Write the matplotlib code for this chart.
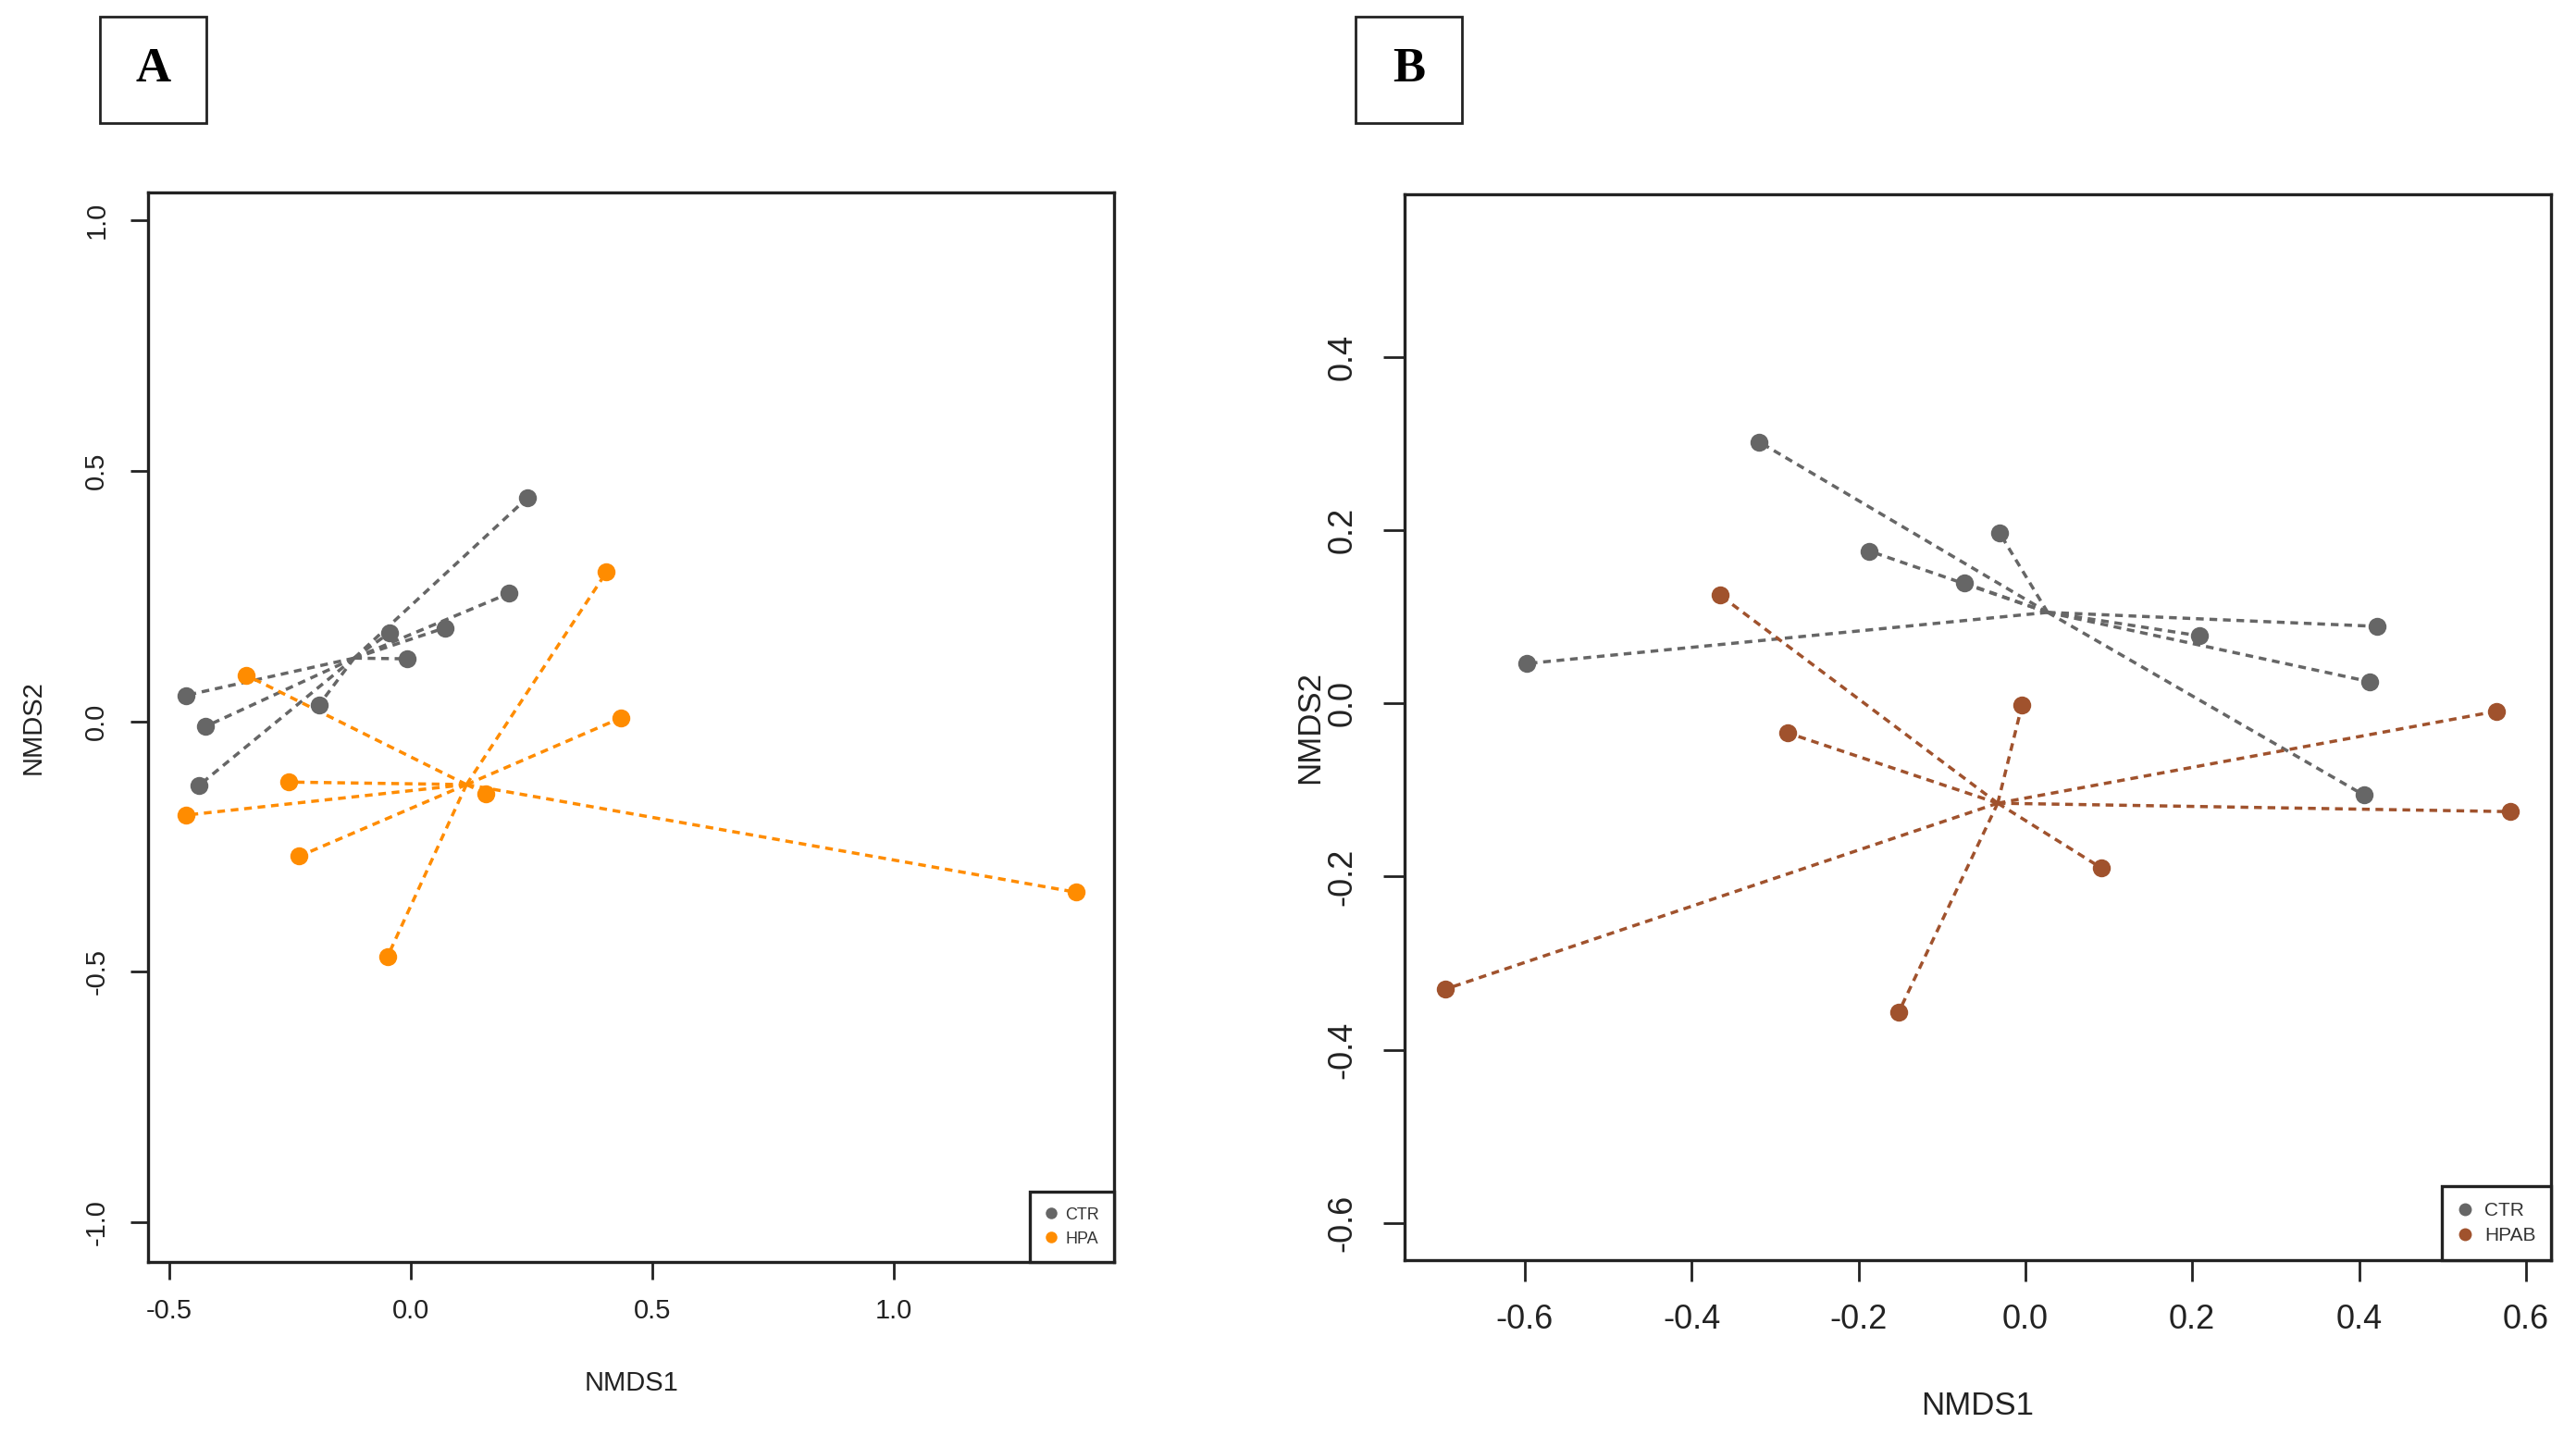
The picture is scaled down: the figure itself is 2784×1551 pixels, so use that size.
import numpy as np
import matplotlib.pyplot as plt
from matplotlib.lines import Line2D
from matplotlib.patches import Rectangle
from matplotlib.ticker import FormatStrFormatter

plt.rcParams['font.family'] = ['Liberation Sans', 'DejaVu Sans']

# panel A: NMDS scores
a_ctr_x = [-0.466, -0.425, -0.439, -0.190, -0.044, -0.007, 0.071, 0.204, 0.241]
a_ctr_y = [0.052, -0.010, -0.128, 0.033, 0.177, 0.125, 0.187, 0.256, 0.446]
a_hpa_x = [-0.340, -0.252, -0.466, -0.231, -0.048, 0.156, 0.405, 0.435, 1.378]
a_hpa_y = [0.092, -0.121, -0.187, -0.269, -0.469, -0.144, 0.298, 0.007, -0.341]

# panel B: NMDS scores
b_ctr_x = [-0.319, -0.598, -0.187, -0.073, -0.031, 0.209, 0.421, 0.413, 0.406]
b_ctr_y = [0.302, 0.046, 0.176, 0.139, 0.197, 0.078, 0.089, 0.025, -0.106]
b_hpab_x = [-0.366, -0.285, -0.004, 0.091, -0.152, -0.695, 0.565, 0.581]
b_hpab_y = [0.125, -0.034, -0.002, -0.190, -0.357, -0.330, -0.009, -0.125]

a_xticks = [-0.5, 0.0, 0.5, 1.0]
a_yticks = [-1.0, -0.5, 0.0, 0.5, 1.0]
b_xticks = [-0.6, -0.4, -0.2, 0.0, 0.2, 0.4, 0.6]
b_yticks = [-0.6, -0.4, -0.2, 0.0, 0.2, 0.4]

GREY = '#666666'
ORANGE = '#FF8C00'
SIENNA = '#A0522D'
INK = '#222222'


def spider(ax, xs, ys, color, ms):
    xs, ys = np.asarray(xs), np.asarray(ys)
    cx, cy = xs.mean(), ys.mean()
    for x, y in zip(xs, ys):
        ax.plot([cx, x], [cy, y], color=color, lw=2.5, dashes=(2.4, 1.8), zorder=2)
    ax.plot(xs, ys, 'o', color=color, ms=ms, mec='none', zorder=3)


def style(ax, tick_fs, tick_len, xpad, ypad):
    for s in ax.spines.values():
        s.set_linewidth(2.4)
        s.set_color(INK)
    ax.tick_params(direction='out', length=tick_len, width=2.0, color=INK,
                   labelsize=tick_fs, labelcolor=INK)
    ax.tick_params(axis='x', pad=xpad)
    ax.tick_params(axis='y', pad=ypad, labelrotation=90)
    for lab in ax.get_yticklabels():
        lab.set_va('center')
    ax.xaxis.set_major_formatter(FormatStrFormatter('%.1f'))
    ax.yaxis.set_major_formatter(FormatStrFormatter('%.1f'))


fig = plt.figure(figsize=(27.84, 15.51), dpi=100)
W, H = 2784, 1551

# ---------- A ----------
axA = fig.add_axes([160 / W, 1 - 1364 / H, (1204 - 160) / W, (1364 - 208) / H])
spider(axA, a_ctr_x, a_ctr_y, GREY, 14)
spider(axA, a_hpa_x, a_hpa_y, ORANGE, 14)
axA.set_xlim(-0.544, 1.456)
axA.set_ylim(-1.079, 1.056)
axA.set_xticks(a_xticks)
axA.set_yticks(a_yticks)
style(axA, 21, 14, 14, 16)
axA.set_xlabel('NMDS1', fontsize=21, color=INK, va='center')
axA.set_ylabel('NMDS2', fontsize=21, color=INK, va='center')
axA.xaxis.set_label_coords(0.5, -0.113)
axA.yaxis.set_label_coords(-0.119, 0.5)
hA = [Line2D([], [], ls='none', marker='o', color=GREY, ms=9, mec='none'),
      Line2D([], [], ls='none', marker='o', color=ORANGE, ms=9, mec='none')]
legA = axA.legend(hA, ['CTR', 'HPA'], loc='lower right', fontsize=13,
                  borderaxespad=0, fancybox=False, framealpha=1, edgecolor=INK,
                  handlelength=0.7, handletextpad=0.5, labelspacing=0.5,
                  borderpad=0.9)
legA.get_frame().set_linewidth(2.4)
for t in legA.get_texts():
    t.set_color('#333333')

# ---------- B ----------
axB = fig.add_axes([1518 / W, 1 - 1362 / H, (2757 - 1518) / W, (1362 - 210) / H])
spider(axB, b_ctr_x, b_ctr_y, GREY, 14)
spider(axB, b_hpab_x, b_hpab_y, SIENNA, 14)
axB.set_xlim(-0.744, 0.630)
axB.set_ylim(-0.643, 0.588)
axB.set_xticks(b_xticks)
axB.set_yticks(b_yticks)
style(axB, 26, 16.5, 17, 19)
axB.set_xlabel('NMDS1', fontsize=25, color=INK, va='center')
axB.set_ylabel('NMDS2', fontsize=25, color=INK, va='center')
axB.xaxis.set_label_coords(0.5, -0.137)
axB.yaxis.set_label_coords(-0.083, 0.5)
hB = [Line2D([], [], ls='none', marker='o', color=GREY, ms=10, mec='none'),
      Line2D([], [], ls='none', marker='o', color=SIENNA, ms=10, mec='none')]
legB = axB.legend(hB, ['CTR', 'HPAB'], loc='lower right', fontsize=15,
                  borderaxespad=0, fancybox=False, framealpha=1, edgecolor=INK,
                  handlelength=0.8, handletextpad=0.6, labelspacing=0.4,
                  borderpad=0.8)
legB.get_frame().set_linewidth(2.4)
for t in legB.get_texts():
    t.set_color('#333333')

# ---------- panel letters ----------
for x0, letter in [(108, 'A'), (1465, 'B')]:
    fig.patches.append(Rectangle((x0 / W, 1 - 133 / H), 115 / W, 115 / H,
                                 transform=fig.transFigure, fill=False,
                                 lw=2.0, edgecolor=INK))
    fig.text((x0 + 57.5) / W, 1 - 75.5 / H, letter, ha='center', va='center',
             fontsize=38, fontweight='bold', family=['Liberation Serif', 'DejaVu Serif'])

fig.savefig('out.png', dpi=100, facecolor='white')
